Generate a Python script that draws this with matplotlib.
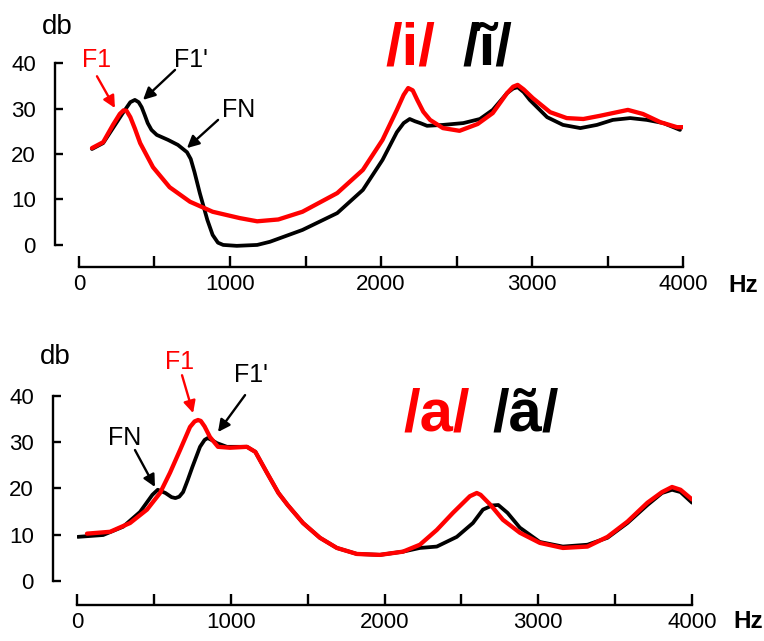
import matplotlib
matplotlib.use('Agg')
import matplotlib.pyplot as plt

plt.rcParams['font.family'] = ['Liberation Sans', 'DejaVu Sans']

# top panel: oral /i/ (red) vs nasal /ĩ/ (black)
freq_i_oral = [86, 160, 225, 270, 295, 315, 340, 370, 405, 490, 600, 735, 885, 1065, 1180, 1320,
               1480, 1710, 1880, 2010, 2105, 2150, 2180, 2210, 2240, 2280, 2325, 2410, 2520,
               2640, 2740, 2835, 2875, 2905, 2945, 3005, 3120, 3230, 3340, 3450, 3535, 3635,
               3735, 3850, 3960, 4000]
db_i_oral = [21.3, 22.6, 26.4, 28.8, 29.6, 29.5, 28.1, 25.6, 22.4, 17.1, 12.7, 9.5, 7.3, 5.9, 5.2,
             5.6, 7.3, 11.4, 16.5, 23.1, 29.7, 33.0, 34.5, 34.0, 31.9, 29.3, 27.5, 25.7, 25.1,
             26.6, 29.0, 33.4, 34.8, 35.2, 34.2, 32.3, 29.2, 27.9, 27.7, 28.4, 29.0, 29.7,
             28.8, 27.0, 25.9, 25.9]

freq_i_nasal = [86, 160, 225, 290, 340, 370, 395, 415, 435, 455, 480, 515, 590, 655, 715, 740,
                765, 800, 850, 885, 920, 955, 1045, 1180, 1265, 1480, 1710, 1880, 2010, 2105,
                2150, 2190, 2225, 2260, 2305, 2410, 2545, 2655, 2740, 2835, 2875, 2905, 2945,
                2985, 3100, 3205, 3320, 3430, 3535, 3650, 3760, 3870, 3980]
db_i_nasal = [21.1, 22.4, 25.7, 29.0, 31.4, 31.9, 31.4, 30.3, 28.6, 26.8, 25.3, 24.2, 23.1, 22.0,
              20.4, 18.9, 16.0, 11.4, 5.5, 2.2, 0.5, 0.0, -0.2, 0.0, 0.7, 3.3, 7.0, 12.1, 18.7,
              24.8, 26.8, 27.7, 27.2, 26.8, 26.2, 26.4, 26.8, 27.7, 29.7, 33.4, 34.4, 34.7,
              33.6, 31.9, 28.1, 26.4, 25.7, 26.4, 27.5, 27.9, 27.5, 26.8, 25.3]

# bottom panel: oral /a/ (red) vs nasal /ã/ (black)
freq_a_oral = [65, 215, 345, 455, 540, 605, 670, 735, 765, 787, 805, 830, 865, 917, 995, 1105,
               1160, 1235, 1310, 1370, 1470, 1580, 1690, 1820, 1970, 2120, 2230, 2340, 2445,
               2555, 2600, 2625, 2690, 2770, 2880, 3010, 3160, 3320, 3450, 3580, 3710, 3805,
               3870, 3925, 4000]
db_a_oral = [10.2, 10.6, 12.5, 15.4, 19.0, 23.4, 28.3, 33.3, 34.5, 34.8, 34.6, 33.4, 31.1, 29.0,
             28.8, 29.0, 27.9, 23.4, 19.0, 16.4, 12.5, 9.3, 7.1, 5.8, 5.6, 6.3, 7.8, 11.0, 14.7,
             18.3, 19.0, 18.6, 16.4, 13.2, 10.4, 8.2, 7.1, 7.4, 9.5, 12.8, 16.9, 19.2, 20.3,
             19.7, 17.6]

freq_a_nasal = [5, 170, 300, 410, 490, 525, 575, 615, 640, 665, 690, 720, 750, 800, 830, 850, 880,
                910, 975, 1105, 1160, 1235, 1310, 1370, 1470, 1580, 1690, 1820, 1970, 2120,
                2230, 2340, 2470, 2575, 2640, 2700, 2740, 2800, 2880, 3010, 3160, 3320, 3450,
                3580, 3710, 3805, 3870, 3925, 4000]
db_a_nasal = [9.5, 9.9, 11.7, 14.9, 18.6, 19.7, 19.0, 18.1, 17.9, 18.2, 19.2, 21.8, 24.6, 29.0,
              30.5, 30.9, 30.4, 29.8, 29.0, 29.0, 27.9, 23.4, 19.0, 16.4, 12.5, 9.3, 7.1, 5.8,
              5.6, 6.3, 7.1, 7.4, 9.5, 12.5, 15.4, 16.3, 16.4, 14.7, 11.5, 8.4, 7.4, 7.8, 9.3,
              12.5, 16.4, 19.0, 19.7, 19.2, 16.9]

x_major = [0, 1000, 2000, 3000, 4000]
x_minor = [500, 1500, 2500, 3500]
y_ticks = [0, 10, 20, 30, 40]

RED = '#ff0000'

fig = plt.figure(figsize=(7.64, 6.41), dpi=100)
ax1 = fig.add_axes([0.1034, 0.6037, 0.7906, 0.305])
ax2 = fig.add_axes([0.1008, 0.0796, 0.805, 0.3098])


def style_axis(ax, bottom_out):
    ax.set_xlim(0, 4000)
    ax.set_ylim(-2, 41)
    for s in ['top', 'right']:
        ax.spines[s].set_visible(False)
    ax.spines['left'].set_position(('outward', 17))
    ax.spines['bottom'].set_position(('outward', bottom_out))
    ax.spines['left'].set_bounds(0, 40)
    ax.spines['bottom'].set_bounds(0, 4000)
    for s in ['left', 'bottom']:
        ax.spines[s].set_linewidth(1.7)
    ax.set_xticks(x_major)
    ax.set_xticks(x_minor, minor=True)
    ax.set_yticks(y_ticks)
    ax.tick_params(axis='both', which='both', direction='in', width=1.7, labelsize=16)
    ax.tick_params(axis='x', which='both', length=8, pad=5)
    ax.tick_params(axis='y', length=6, pad=14)


style_axis(ax1, 9.4)
style_axis(ax2, 10.8)

ax1.plot(freq_i_nasal, db_i_nasal, color='black', lw=2.7, solid_capstyle='round', solid_joinstyle='round')
ax1.plot(freq_i_oral, db_i_oral, color=RED, lw=3.1, solid_capstyle='round', solid_joinstyle='round')
ax2.plot(freq_a_nasal, db_a_nasal, color='black', lw=2.7, solid_capstyle='round', solid_joinstyle='round')
ax2.plot(freq_a_oral, db_a_oral, color=RED, lw=3.1, solid_capstyle='round', solid_joinstyle='round')


def label(ax, txt, pos, tail, tip, color):
    ax.text(pos[0], pos[1], txt, color=color, fontsize=18, ha='center', va='center',
            clip_on=False)
    ax.annotate('', xy=tip, xytext=tail, annotation_clip=False,
                arrowprops=dict(arrowstyle='-|>', color=color, lw=1.7,
                                mutation_scale=18, shrinkA=0, shrinkB=0))


label(ax1, 'F1', (119, 40.7), (119, 37.1), (238, 30.1), RED)
label(ax1, "F1'", (742, 40.7), (636, 38.5), (424, 31.9), 'black')
label(ax1, 'FN', (1060, 29.7), (921, 27.5), (715, 21.3), 'black')

label(ax2, 'FN', (312, 30.9), (377, 28.3), (507, 20.3), 'black')
label(ax2, 'F1', (670, 47.4), (683, 44.5), (755, 36.3), RED)
label(ax2, "F1'", (1132, 44.5), (1093, 40.2), (917, 32.2), 'black')

# titles
fig.text(0.504, 0.8986, '/i/', color=RED, fontsize=43, fontweight='bold', ha='left', va='baseline')
fig.text(0.605, 0.8986, '/ĩ/', color='black', fontsize=43, fontweight='bold', ha='left', va='baseline')
fig.text(0.5275, 0.329, '/a/', color=RED, fontsize=43, fontweight='bold', ha='left', va='baseline')
fig.text(0.645, 0.329, '/ã/', color='black', fontsize=43, fontweight='bold', ha='left', va='baseline')

# axis unit labels
fig.text(57 / 764, 1 - 27 / 641, 'db', fontsize=20, ha='center', va='center')
fig.text(55 / 764, 1 - 357 / 641, 'db', fontsize=20, ha='center', va='center')
fig.text(743 / 764, 1 - 285 / 641, 'Hz', fontsize=17.5, fontweight='bold', ha='center', va='center')
fig.text(748 / 764, 1 - 622 / 641, 'Hz', fontsize=17.5, fontweight='bold', ha='center', va='center')

fig.savefig('out.png', dpi=100)
